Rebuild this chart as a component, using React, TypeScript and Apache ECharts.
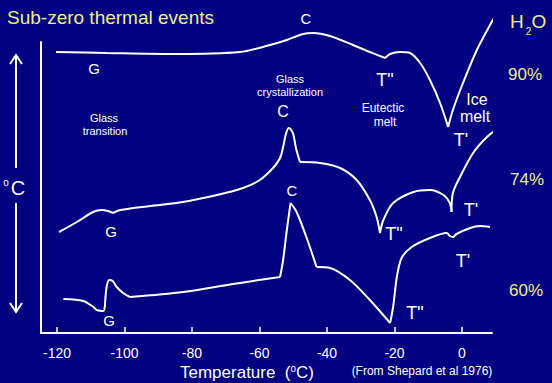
import React, { useEffect, useRef } from "react";
import * as echarts from "echarts";

// ---- data ----
const tickTemps = [-120, -100, -80, -60, -40, -20, 0];

// 90% H2O curve (temperature °C, relative signal)
const temps90 = [-120.3, -105.2, -85.6, -65.8, -56.9, -51.9, -47.1, -44.1, -39.1, -32.3, -27.3, -22.8, -21.3, -18.4, -15.4, -12.4, -9.5, -6.5, -4.1, -2.7, 0.3, 4.4, 8.3, 11.6];
const sig90 = [281, 280, 279, 281, 288, 293, 299, 300, 297, 288, 281, 275, 279, 281, 280, 270, 253, 230, 206, 223, 250, 283, 308, 327];
const cusps90 = [11, 18];

// 74% H2O curve
const temps74 = [-119.4, -114.1, -109.3, -106.7, -104.9, -103.4, -101.3, -92.4, -82.7, -72.6, -64.9, -59.9, -56.0, -53.9, -53.0, -52.1, -51.3, -50.1, -49.2, -48.0, -42.1, -36.1, -31.2, -27.3, -25.3, -24.3, -23.3, -20.4, -14.4, -9.5, -5.5, -3.6, -3.1, -2.7, -0.6, 3.3, 7.4, 11.6];
const sig74 = [101, 111, 121, 123, 122, 120, 123, 127, 131, 138, 145, 153, 165, 175, 186, 200, 205, 200, 185, 171, 170, 165, 153, 133, 116, 100, 113, 130, 141, 143, 138, 130, 121, 140, 156, 180, 196, 207];
const cusps74 = [5, 19, 25, 32];

// 60% H2O curve
const temps60 = [-118.1, -112.2, -109.2, -108.2, -106.3, -105.8, -105.3, -104.5, -103.5, -102.3, -100.4, -98.4, -82.6, -67.8, -53.9, -53.0, -51.9, -50.8, -49.0, -45.8, -43.1, -39.1, -33.2, -27.3, -21.3, -20.4, -19.3, -17.9, -14.9, -9.5, -4.5, -3.6, -2.6, -1.6, 2.4, 5.3, 8.3];
const sig60 = [34, 32, 26, 23, 22, 27, 46, 53, 52, 46, 40, 36, 41, 49, 56, 73, 103, 130, 121, 93, 66, 65, 53, 33, 10, 26, 56, 75, 86, 95, 100, 97, 96, 99, 105, 107, 106];
const cusps60 = [5, 11, 14, 17, 20, 24];

const concentrations = ["90%", "74%", "60%"];

const FONT = '"Liberation Sans", Arial, Helvetica, sans-serif';
const WHITE = "#ffffff";
const YELLOW = "#eeee88";
const BG = "#000080";

function segments(temps: number[], sig: number[], cusps: number[]) {
  const pts = temps.map((t, i) => [t, sig[i]]);
  const cuts = [0, ...cusps, pts.length - 1];
  const out: number[][][] = [];
  for (let k = 0; k < cuts.length - 1; k++) out.push(pts.slice(cuts[k], cuts[k + 1] + 1));
  return out;
}

function txt(x: number, y: number, text: string, size: number, fill = WHITE, align = "center") {
  return {
    type: "text",
    x,
    y,
    silent: true,
    style: {
      text,
      fill,
      fontSize: size,
      fontFamily: FONT,
      textAlign: align,
      align,
      textVerticalAlign: "middle",
      verticalAlign: "middle",
    },
  };
}

export default function App() {
  const ref = useRef<HTMLDivElement>(null);
  useEffect(() => {
    const chart = echarts.init(ref.current!, undefined, { renderer: "svg" });
    const curves = [
      ...segments(temps90, sig90, cusps90),
      ...segments(temps74, sig74, cusps74),
      ...segments(temps60, sig60, cusps60),
    ];
    const series = curves.map((seg) => ({
      type: "line",
      data: seg,
      smooth: 0.3,
      symbol: "none",
      showSymbol: false,
      clip: false,
      silent: true,
      lineStyle: { color: WHITE, width: 2 },
    }));

    const graphic: any[] = [
      // left arrow
      { type: "line", shape: { x1: 16, y1: 55, x2: 16, y2: 168 }, style: { stroke: WHITE, lineWidth: 2 } },
      { type: "line", shape: { x1: 16, y1: 203, x2: 16, y2: 312 }, style: { stroke: WHITE, lineWidth: 2 } },
      { type: "polyline", shape: { points: [[10, 64], [16, 55], [22, 64]] }, style: { stroke: WHITE, fill: null, lineWidth: 2 } },
      { type: "polyline", shape: { points: [[10, 303], [16, 312], [22, 303]] }, style: { stroke: WHITE, fill: null, lineWidth: 2 } },
      txt(6, 182, "o", 10),
      txt(18, 188, "C", 20),
      // H2O
      txt(510, 21.5, "H", 19, YELLOW, "left"),
      txt(528.5, 31, "2", 10, YELLOW),
      txt(531.5, 21.5, "O", 19, YELLOW, "left"),
      // concentrations
      txt(525, 74, concentrations[0], 17, YELLOW),
      txt(527, 179, concentrations[1], 17, YELLOW),
      txt(526, 290, concentrations[2], 17, YELLOW),
      // annotations
      txt(306, 18, "C", 15),
      txt(94, 68, "G", 15),
      txt(104, 117.5, "Glass", 11),
      txt(105, 131, "transition", 11),
      txt(290, 79, "Glass", 11),
      txt(290, 92, "crystallization", 11),
      txt(283, 111, "C", 16),
      txt(385, 80, 'T"', 18),
      txt(383, 108, "Eutectic", 12),
      txt(385, 122, "melt", 12),
      txt(477, 99, "Ice", 16),
      txt(475, 116, "melt", 16),
      txt(461, 140, "T'", 18),
      txt(471, 210, "T'", 18),
      txt(394, 234, 'T"', 18),
      txt(292, 190, "C", 15),
      txt(463, 261, "T'", 18),
      txt(415, 313, 'T"', 18),
      txt(111, 231, "G", 15),
      txt(109, 320, "G", 15),
      // axis title and source
      {
        type: "text",
        x: 247,
        y: 372,
        silent: true,
        style: {
          text: "Temperature  ({o|o}C)",
          fill: WHITE,
          fontSize: 17,
          fontFamily: FONT,
          textAlign: "center",
          align: "center",
          textVerticalAlign: "middle",
          verticalAlign: "middle",
          rich: { o: { fontSize: 10, fill: WHITE, fontFamily: FONT, verticalAlign: "top" } },
        },
      },
      txt(422, 371, "(From Shepard et al 1976)", 12),
    ];

    chart.setOption({
      animation: false,
      backgroundColor: BG,
      title: {
        text: "Sub-zero thermal events",
        left: 7,
        top: 8,
        padding: 0,
        textStyle: { color: YELLOW, fontSize: 19, fontWeight: "normal", fontFamily: FONT },
      },
      grid: { left: 41, right: 60, top: 42, bottom: 50, containLabel: false },
      xAxis: {
        type: "value",
        min: -124.74,
        max: 8.89,
        axisLine: { show: true, onZero: false, lineStyle: { color: WHITE, width: 2 } },
        axisTick: { show: true, inside: true, length: 6, customValues: tickTemps, lineStyle: { color: WHITE, width: 1.5 } },
        axisLabel: { show: true, color: WHITE, fontSize: 14, margin: 13, fontFamily: FONT, customValues: tickTemps },
        splitLine: { show: false },
      },
      yAxis: {
        type: "value",
        min: 0,
        max: 291,
        axisLine: { show: true, onZero: false, lineStyle: { color: WHITE, width: 2 } },
        axisTick: { show: false },
        axisLabel: { show: false },
        splitLine: { show: false },
      },
      series,
      graphic,
    });
    return () => chart.dispose();
  }, []);
  return (
    <div
      ref={ref}
      style={{ position: "fixed", left: 0, top: 0, width: 552, height: 383, background: BG }}
    />
  );
}
